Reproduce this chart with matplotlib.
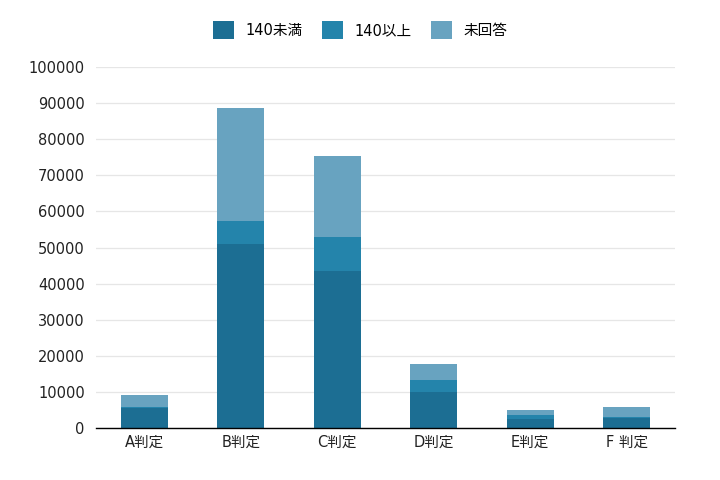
import numpy as np
import matplotlib
matplotlib.use('Agg')
import matplotlib.pyplot as plt

plt.rcParams['font.family'] = ['DejaVu Sans', 'Noto Sans CJK JP']
plt.rcParams['font.size'] = 10.5

# data
categories = ['A判定', 'B判定', 'C判定', 'D判定', 'E判定', 'F 判定']
under_140 = [5500, 51000, 43500, 10100, 2500, 2700]
over_140 = [300, 6300, 9400, 3200, 1200, 300]
no_answer = [3400, 31300, 22400, 4400, 1300, 2800]
series_names = ['140未満', '140以上', '未回答']
colors = ['#1c6e93', '#2484ab', '#68a3c0']

fig = plt.figure(figsize=(7.2, 4.8), dpi=100)
ax = fig.add_axes([0.1333, 0.1083, 0.8042, 0.7521])

x = np.arange(len(categories))
bottom = np.zeros(len(categories))
for name, vals, col in zip(series_names, [under_140, over_140, no_answer], colors):
    ax.bar(x, vals, width=0.49, bottom=bottom, color=col, label=name, zorder=3)
    bottom += np.array(vals)

ax.set_xlim(-0.5, len(categories) - 0.5)
ax.set_ylim(0, 100000)
ax.set_yticks(np.arange(0, 100001, 10000))
ax.set_xticks(x)
ax.set_xticklabels(categories)
ax.tick_params(axis='y', length=0, pad=8, labelsize=10.5, colors='#222222')
ax.tick_params(axis='x', length=0, pad=5, labelsize=10.5, colors='#222222')

ax.grid(axis='y', color='#e6e6e6', linewidth=0.9, zorder=0)
for side in ['top', 'right', 'left']:
    ax.spines[side].set_visible(False)
ax.spines['bottom'].set_color('black')
ax.spines['bottom'].set_linewidth(1.0)
ax.spines['bottom'].set_zorder(4)

fig.legend(loc='center', bbox_to_anchor=(0.5, 0.9375), ncol=3, frameon=False,
           handlelength=1.45, handleheight=1.45, handletextpad=0.8,
           columnspacing=1.3, fontsize=10.5)

fig.savefig('out.png', dpi=100)
